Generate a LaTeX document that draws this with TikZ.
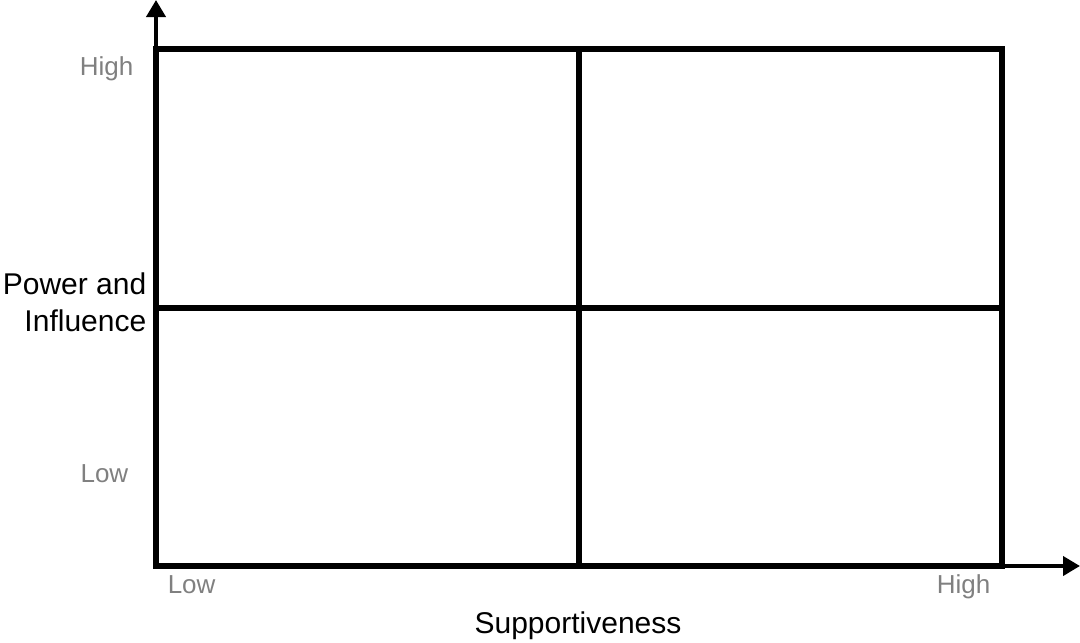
\documentclass[tikz,border=0pt]{standalone}
\usepackage{fontspec}
\setmainfont{Liberation Sans}
\usepackage{xcolor}
\usepackage{tikz}
\usetikzlibrary{arrows.meta}
\definecolor{lvlgray}{HTML}{808080}

\begin{document}
\begin{tikzpicture}[x=1pt,y=-1pt,line width=5.5pt,
lvl/.style={font=\fontsize{26}{31}\selectfont,text=lvlgray,inner sep=0pt},
axname/.style={font=\fontsize{30}{37}\selectfont,inner sep=0pt,align=right},
axis/.style={line width=4pt,-{Triangle[width=19pt,length=17pt]}}]
\useasboundingbox(0,0)rectangle(1080,643);
% axes
\coordinate(o)at(156,566);
\coordinate(ytip)at(156,0);
\coordinate(xtip)at(1080,566);
\draw[axis](o)--(ytip);
\draw[axis](o)--(xtip);
% grid
\coordinate(tl)at(156,49);
\coordinate(br)at(1002,566);
\draw(tl)rectangle(br);
\draw(579,49)--(579,566);
\draw(156,308)--(1002,308);
% labels
\node[lvl,anchor=base east](yhigh)at(136,75){High};
\node[lvl,anchor=base east](ylow)at(131,482){Low};
\node[lvl,anchor=base west](xlow)at(165,593){Low};
\node[lvl,anchor=base east](xhigh)at(993,593){High};
\node[axname,anchor=east](yname)at(149,302){Power and\\Influence};
\node[axname,anchor=base](xname)at(578,633){Supportiveness};
\end{tikzpicture}
\end{document}
